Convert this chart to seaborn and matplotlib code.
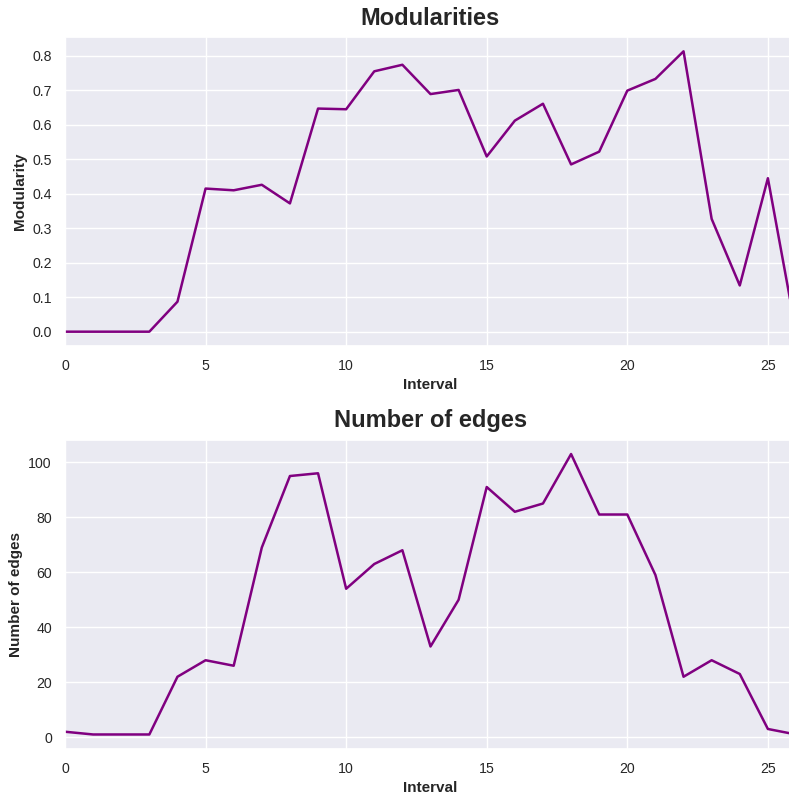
import matplotlib
matplotlib.use("Agg")
import matplotlib.pyplot as plt
import seaborn as sns
import pandas as pd

intervals = list(range(27))
modularity = [0.0, 0.0, 0.0, 0.0, 0.087, 0.415, 0.41, 0.426, 0.372, 0.647,
              0.645, 0.755, 0.774, 0.689, 0.701, 0.508, 0.612, 0.661, 0.485,
              0.522, 0.699, 0.733, 0.813, 0.327, 0.134, 0.445, 0.0]
edges = [2, 1, 1, 1, 22, 28, 26, 69, 95, 96, 54, 63, 68, 33, 50, 91, 82, 85,
         103, 81, 81, 59, 22, 28, 23, 3, 1]

df = pd.DataFrame({"Interval": intervals, "Modularity": modularity, "Edges": edges})

sns.set_theme(style="darkgrid")
plt.rcParams['font.family'] = ['Liberation Sans', 'DejaVu Sans']

W, H = 789, 795
fig = plt.figure(figsize=(W / 100, H / 100), dpi=100)

ax1 = fig.add_axes([65 / W, 1 - 345.7 / H, 731 / W, 308.4 / H])
ax2 = fig.add_axes([65 / W, 1 - 748.5 / H, 731 / W, 308.5 / H])

sns.lineplot(data=df, x="Interval", y="Modularity", ax=ax1, color="purple", linewidth=1.8)
sns.lineplot(data=df, x="Interval", y="Edges", ax=ax2, color="purple", linewidth=1.8)

for ax, title, ylab in [(ax1, "Modularities", "Modularity"), (ax2, "Number of edges", "Number of edges")]:
    ax.set_xlim(0, 26)
    ax.set_title(title, fontsize=17, fontweight="bold", pad=9, color="#262626")
    ax.set_xlabel("Interval", fontsize=11, fontweight="bold", color="#262626")
    ax.set_ylabel(ylab, fontsize=11, fontweight="bold", color="#262626")
    ax.tick_params(labelsize=10.2, colors="#262626")

ax1.set_yticks([0.0, 0.1, 0.2, 0.3, 0.4, 0.5, 0.6, 0.7, 0.8])
ax2.set_yticks([0, 20, 40, 60, 80, 100])

fig.savefig("out.png", dpi=100)
